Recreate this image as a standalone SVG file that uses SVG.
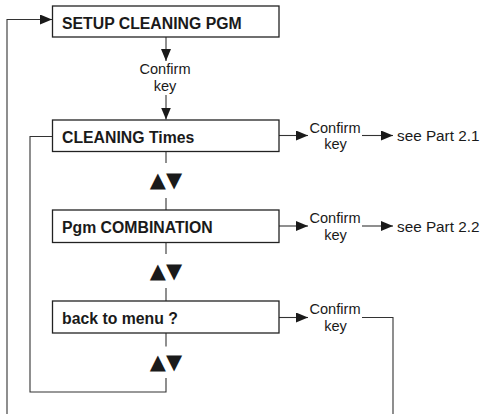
<svg xmlns="http://www.w3.org/2000/svg" width="487" height="414" viewBox="0 0 487 414">
<style>
  .box{fill:#fff;stroke:#222;stroke-width:1.3}
  .ln{fill:none;stroke:#333;stroke-width:1.1}
  .lbl{font-family:"Liberation Sans",Arial,sans-serif;font-weight:bold;font-size:15.8px;fill:#1a1a1a}
  .txt{font-family:"Liberation Sans",Arial,sans-serif;font-size:15.3px;fill:#1a1a1a}
  .ck{font-family:"Liberation Sans",Arial,sans-serif;font-size:14.6px;fill:#1a1a1a}
  .tri{font-family:"DejaVu Sans",sans-serif;font-size:21px;fill:#1a1a1a}
</style>
<defs>
  <marker id="ah" markerUnits="userSpaceOnUse" markerWidth="12" markerHeight="10" refX="12" refY="5" orient="auto">
    <path d="M0,0 L12,5 L0,10 z" fill="#1a1a1a"/>
  </marker>
</defs>
<rect width="487" height="414" fill="#fff"/>
<g id="connectors">
  <polyline class="ln" points="7,414 7,19.5 52,19.5" marker-end="url(#ah)"/>
  <line class="ln" x1="166" y1="37" x2="166" y2="61" marker-end="url(#ah)"/>
  <line class="ln" x1="166" y1="95" x2="166" y2="119.5" marker-end="url(#ah)"/>
  <text class="ck" text-anchor="middle"><tspan x="165" y="74">Confirm</tspan><tspan x="165" y="90.5">key</tspan></text>
  <line class="ln" x1="166" y1="151.5" x2="166" y2="163"/>
  <line class="ln" x1="166" y1="198" x2="166" y2="210"/>
  <text class="tri" x="166" y="187" text-anchor="middle">▲▼</text>
  <line class="ln" x1="166" y1="242.5" x2="166" y2="254"/>
  <line class="ln" x1="166" y1="288" x2="166" y2="301"/>
  <text class="tri" x="166" y="278" text-anchor="middle">▲▼</text>
  <line class="ln" x1="166" y1="333" x2="166" y2="346.5"/>
  <text class="tri" x="166" y="369" text-anchor="middle">▲▼</text>
  <polyline class="ln" points="166,378 166,392 30,392 30,136.5 52,136.5"/>
  <line class="ln" x1="279" y1="135.5" x2="308" y2="135.5" marker-end="url(#ah)"/>
  <text class="ck" text-anchor="middle"><tspan x="335" y="132.5">Confirm</tspan><tspan x="335.5" y="149">key</tspan></text>
  <line class="ln" x1="362" y1="135.5" x2="393" y2="135.5" marker-end="url(#ah)"/>
  <text class="txt" x="397" y="141">see Part 2.1</text>
  <line class="ln" x1="279" y1="226" x2="308" y2="226" marker-end="url(#ah)"/>
  <text class="ck" text-anchor="middle"><tspan x="335" y="223">Confirm</tspan><tspan x="335.5" y="239.5">key</tspan></text>
  <line class="ln" x1="362" y1="226" x2="393" y2="226" marker-end="url(#ah)"/>
  <text class="txt" x="397" y="231.5">see Part 2.2</text>
  <line class="ln" x1="279" y1="317.5" x2="308" y2="317.5" marker-end="url(#ah)"/>
  <text class="ck" text-anchor="middle"><tspan x="335" y="314">Confirm</tspan><tspan x="335.5" y="330.5">key</tspan></text>
  <polyline class="ln" points="362,317.5 393,317.5 393,414"/>
</g>
<g id="node-setup">
  <rect class="box" x="52.5" y="6" width="226.5" height="31"/>
  <text class="lbl" x="62" y="29">SETUP CLEANING PGM</text>
</g>
<g id="node-times">
  <rect class="box" x="52.5" y="120" width="226.5" height="31.5"/>
  <text class="lbl" x="62" y="142.5">CLEANING Times</text>
</g>
<g id="node-combination">
  <rect class="box" x="52.5" y="210" width="226.5" height="32.5"/>
  <text class="lbl" x="62" y="233">Pgm COMBINATION</text>
</g>
<g id="node-back">
  <rect class="box" x="52.5" y="301" width="226.5" height="32"/>
  <text class="lbl" x="62" y="323.5">back to menu ?</text>
</g>
</svg>
